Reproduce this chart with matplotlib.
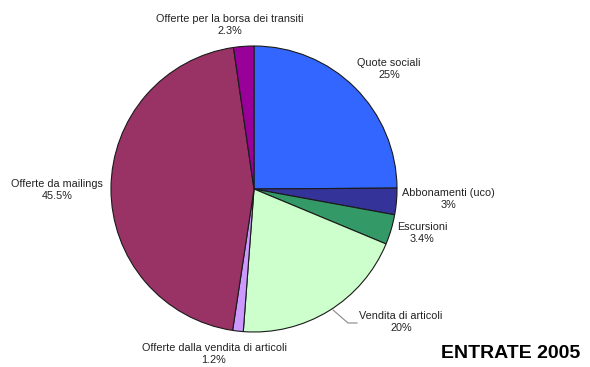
import matplotlib.pyplot as plt

labels = ["Quote sociali", "Abbonamenti (uco)", "Escursioni", "Vendita di articoli",
          "Offerte dalla vendita di articoli", "Offerte da mailings",
          "Offerte per la borsa dei transiti"]
values = [25, 3, 3.4, 20, 1.2, 45.5, 2.3]
pct_text = ["25%", "3%", "3.4%", "20%", "1.2%", "45.5%", "2.3%"]
colors = ["#3366FF", "#333399", "#339966", "#CCFFCC", "#CC99FF", "#993366", "#990099"]

# label centres in pixel coords (y from top)
label_pos = [(389, 69), (448, 199), (422, 233), (401, 322), (214, 354), (57, 190), (230, 25)]

W, H = 590, 367
fig = plt.figure(figsize=(W / 100, H / 100), dpi=100)
ax = fig.add_axes([0, 0, 1, 1])
ax.set_xlim(0, W)
ax.set_ylim(0, H)
ax.set_aspect('equal')
ax.axis('off')

cx, cy, r = 254, H - 189, 143
ax.pie(values, colors=colors, startangle=90, counterclock=False,
       center=(cx, cy), radius=r, normalize=True,
       wedgeprops=dict(edgecolor='#1a1a1a', linewidth=0.8))
ax.set_xlim(0, W)
ax.set_ylim(0, H)

for lab, p, (x, y) in zip(labels, pct_text, label_pos):
    ax.text(x, H - y, lab + "\n" + p, ha='center', va='center', fontsize=7.8,
            color='#222222', family='Liberation Sans', linespacing=1.25)

# leader line for Vendita di articoli
ax.plot([333, 348, 357], [H - 310, H - 323, H - 323], color='#888888', lw=0.8)

ax.text(580, H - 354, "ENTRATE 2005", ha='right', va='center', fontsize=14,
        fontweight='bold', family='Liberation Sans')

plt.savefig('out.png', dpi=100)
